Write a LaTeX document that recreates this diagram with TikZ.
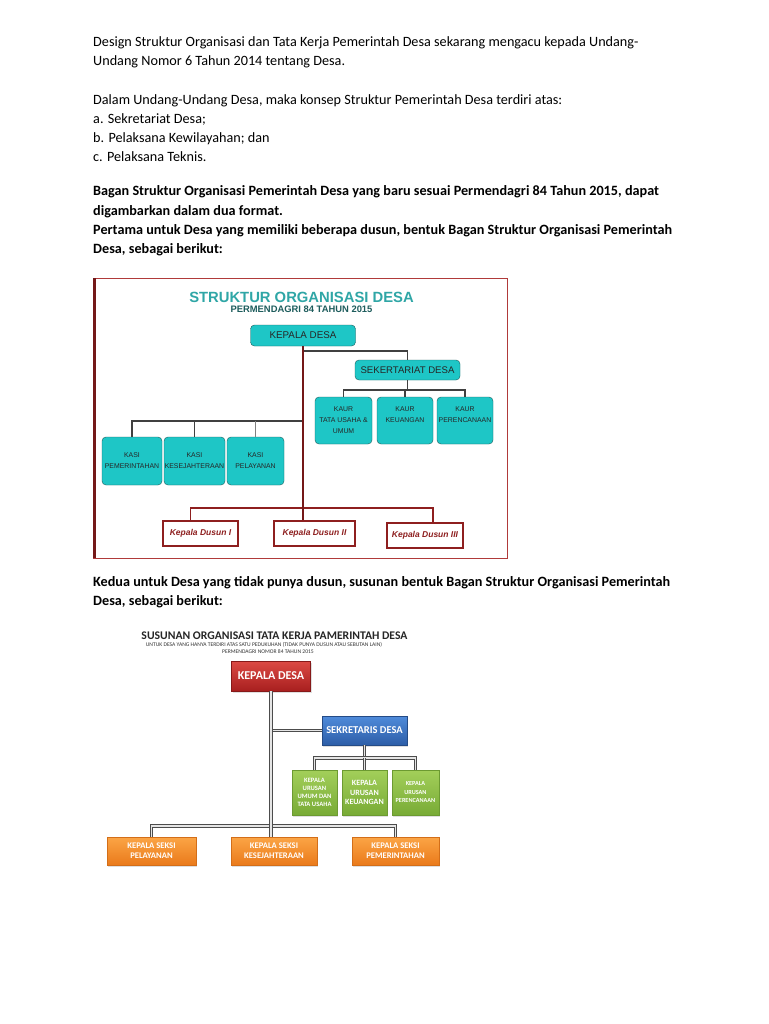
\documentclass[tikz,border=0pt]{standalone}
\usepackage{fontspec}
\setmainfont{Carlito}
\newfontfamily\arialf{Liberation Sans}
\usetikzlibrary{positioning, calc, shadows}

\definecolor{cyanbox}{HTML}{1EC6C6}
\definecolor{tealdark}{HTML}{1D5C5C}
\definecolor{tealtitle}{HTML}{2FA6A6}
\definecolor{trunkred}{HTML}{741818}
\definecolor{framered}{HTML}{B03A3A}
\definecolor{dusunred}{HTML}{8E1F1F}
\definecolor{redtop}{HTML}{DC4A44}
\definecolor{redbot}{HTML}{A81F1F}
\definecolor{bluetop}{HTML}{4F8BDA}
\definecolor{bluebot}{HTML}{2D5EA8}
\definecolor{greentop}{HTML}{A3CF5A}
\definecolor{greenbot}{HTML}{78AB36}
\definecolor{orangetop}{HTML}{FBA545}
\definecolor{orangebot}{HTML}{EA7A1B}

\tikzset{
  txt/.style={anchor=base west, inner sep=0pt, font=\fontsize{14.2}{16}\selectfont},
  txtb/.style={txt, font=\fontsize{14.2}{16}\selectfont\bfseries},
  kotak/.style={draw=tealdark, fill=cyanbox, rounded corners=4pt, inner sep=0pt,
    align=center, text=black!85, font=\arialf\fontsize{6.9}{11}\selectfont},
  dusun/.style={draw=dusunred, line width=1.5pt, fill=white, inner sep=0pt,
    text=dusunred, font=\arialf\bfseries\itshape\fontsize{8.5}{10}\selectfont},
  link/.style={draw=black!75, line width=1.2pt},
  linkd/.style={draw=dusunred, line width=1.2pt},
  trunk/.style={draw=trunkred, line width=2.8pt},
  box2/.style={inner sep=0pt, align=center, text=white,
    drop shadow={opacity=0.25, shadow xshift=1pt, shadow yshift=-1.5pt}},
  merah/.style={box2, top color=redtop, bottom color=redbot, draw=redbot!80!black,
    font=\fontsize{12}{13}\selectfont\bfseries},
  biru/.style={box2, top color=bluetop, bottom color=bluebot, draw=bluebot!80!black,
    font=\fontsize{10.5}{12}\selectfont\bfseries},
  hijau/.style={box2, top color=greentop, bottom color=greenbot, draw=greenbot!90!black,
    font=\fontsize{6.6}{8}\selectfont\bfseries},
  oranye/.style={box2, top color=orangetop, bottom color=orangebot, draw=orangebot!90!black,
    font=\fontsize{8.6}{10}\selectfont\bfseries},
  link2/.style={draw=black!70, double=black!10, double distance=1.1pt, line width=1pt}
}

\begin{document}
\begin{tikzpicture}[x=1pt, y=-1pt]
  \useasboundingbox[fill=white] (0,0) rectangle (768,1024);

  % paragraf pembuka
  \node[txt] (p1) at (93,47) {Design Struktur Organisasi dan Tata Kerja Pemerintah Desa sekarang mengacu kepada Undang-};
  \node[txt] (p2) at (93,66) {Undang Nomor 6 Tahun 2014 tentang Desa.};
  \node[txt] (p3) at (93,105) {Dalam Undang-Undang Desa, maka konsep Struktur Pemerintah Desa terdiri atas:};
  \node[txt] (p4) at (93,124) {a. Sekretariat Desa;};
  \node[txt] (p5) at (93,143) {b. Pelaksana Kewilayahan; dan};
  \node[txt] (p6) at (93,162) {c. Pelaksana Teknis.};
  \node[txtb] (b1) at (93,196) {Bagan Struktur Organisasi Pemerintah Desa yang baru sesuai Permendagri 84 Tahun 2015, dapat};
  \node[txtb] (b2) at (93,215) {digambarkan dalam dua format.};
  \node[txtb] (b3) at (93,234) {Pertama untuk Desa yang memiliki beberapa dusun, bentuk Bagan Struktur Organisasi Pemerintah};
  \node[txtb] (b4) at (93,253) {Desa, sebagai berikut:};

  % bagan pertama
  \draw[framered, line width=0.8pt] (93,278) rectangle (507,558);
  \draw[trunkred, line width=2.5pt] (94.5,278) -- (94.5,558);
  \node[text=tealtitle, font=\arialf\bfseries\fontsize{14.8}{16}\selectfont] (judul1) at (301.5,297) {STRUKTUR ORGANISASI DESA};
  \node[text=tealdark, font=\arialf\bfseries\fontsize{9.4}{10}\selectfont] (sub1) at (301.5,309.5) {PERMENDAGRI 84 TAHUN 2015};

  \node[kotak, minimum width=105, minimum height=21, font=\arialf\fontsize{9.8}{10}\selectfont] (kd1) at (303,335.5) {KEPALA DESA};
  \node[kotak, minimum width=105, minimum height=20, font=\arialf\fontsize{9.6}{10}\selectfont] (sek1) at (407.5,370) {SEKERTARIAT DESA};
  \node[kotak, minimum width=57, minimum height=47] (kaur1) at (343.5,420.5) {KAUR\\TATA USAHA \&\\UMUM};
  \node[kotak, minimum width=56, minimum height=47] (kaur2) at (405,420.5) {KAUR\\KEUANGAN\\~};
  \node[kotak, minimum width=56, minimum height=47] (kaur3) at (465,420.5) {KAUR\\PERENCANAAN\\~};
  \node[kotak, minimum width=60, minimum height=48] (kasi1) at (132,461) {KASI\\PEMERINTAHAN};
  \node[kotak, minimum width=61, minimum height=48] (kasi2) at (194.5,461) {KASI\\KESEJAHTERAAN};
  \node[kotak, minimum width=57, minimum height=48] (kasi3) at (255.5,461) {KASI\\PELAYANAN};
  \node[dusun, minimum width=75, minimum height=25] (dsn1) at (200.5,533.5) {Kepala Dusun I};
  \node[dusun, minimum width=81, minimum height=25] (dsn2) at (314.5,533.5) {Kepala Dusun II};
  \node[dusun, minimum width=76, minimum height=25] (dsn3) at (425,535.5) {Kepala Dusun III};

  \coordinate (barsek) at (0,351);
  \coordinate (barkaur) at (0,390);
  \coordinate (barkasi) at (0,421);
  \coordinate (bardsn) at (0,508);
  \coordinate (d1) at ([xshift=-10pt]dsn1.north);
  \coordinate (d3) at ([xshift=8pt]dsn3.north);

  \draw[link] (kd1.south |- barsek) -| (sek1.north);
  \draw[link] (sek1.south) -- (sek1.south |- barkaur);
  \draw[link] (kaur1.north) |- (barkaur -| kaur3.north) -- (kaur3.north);
  \draw[link] (kaur2.north) -- (kaur2.north |- barkaur);
  \draw[link] (kasi1.north) |- (barkasi -| kd1.south);
  \draw[link] (kasi2.north) -- (kasi2.north |- barkasi);
  \draw[link, black!50] (kasi3.north) -- (kasi3.north |- barkasi);
  \draw[linkd] (d1) |- (bardsn -| d3) -- (d3);
  \draw[trunk] (kd1.south) -- (kd1.south |- dsn2.north);

  % paragraf kedua
  \node[txtb] (k1) at (93,586) {Kedua untuk Desa yang tidak punya dusun, susunan bentuk Bagan Struktur Organisasi Pemerintah};
  \node[txtb] (k2) at (93,605) {Desa, sebagai berikut:};

  % bagan kedua
  \node[font=\fontsize{11.7}{12}\selectfont\bfseries, text=black!85] (judul2) at (274.5,636) {SUSUNAN ORGANISASI TATA KERJA PAMERINTAH DESA};
  \node[font=\fontsize{5.6}{6}\selectfont, text=black!80] (sub2a) at (264,645) {UNTUK DESA YANG HANYA TERDIRI ATAS SATU PEDUKUHAN (TIDAK PUNYA DUSUN ATAU SEBUTAN LAIN)};
  \node[font=\fontsize{5.6}{6}\selectfont, text=black!80] (sub2b) at (268,651.5) {PERMENDAGRI NOMOR 84 TAHUN 2015};

  \node[merah, minimum width=79, minimum height=30] (kd2) at (271,676) {KEPALA DESA};
  \node[biru, minimum width=85, minimum height=29] (sek2) at (364.5,730.5) {SEKRETARIS DESA};
  \node[hijau, minimum width=45, minimum height=45] (kur1) at (314.5,792.5) {KEPALA\\URUSAN\\UMUM DAN\\TATA USAHA};
  \node[hijau, minimum width=45, minimum height=45, font=\fontsize{8}{9.5}\selectfont\bfseries] (kur2) at (364.5,792.5) {KEPALA\\URUSAN\\KEUANGAN};
  \node[hijau, minimum width=47, minimum height=45, font=\fontsize{6.2}{8.5}\selectfont\bfseries] (kur3) at (415.5,792.5) {KEPALA\\URUSAN\\PERENCANAAN};
  \node[oranye, minimum width=89, minimum height=28] (ks1) at (151.5,851) {KEPALA SEKSI\\PELAYANAN};
  \node[oranye, minimum width=86, minimum height=28] (ks2) at (274,851) {KEPALA SEKSI\\KESEJAHTERAAN};
  \node[oranye, minimum width=87, minimum height=28] (ks3) at (395.5,851) {KEPALA SEKSI\\PEMERINTAHAN};

  \coordinate (barkur) at (0,758);
  \coordinate (barks) at (0,826);

  \draw[link2] (kd2.south |- sek2.west) -- (sek2.west);
  \draw[link2] (sek2.south) -- (sek2.south |- barkur);
  \draw[link2] (kur1.north) |- (barkur -| kur3.north) -- (kur3.north);
  \draw[link2] (kur2.north) -- (kur2.north |- barkur);
  \draw[link2] (ks1.north) |- (barks -| ks3.north) -- (ks3.north);
  \draw[link2] (kd2.south) -- (kd2.south |- ks2.north);
\end{tikzpicture}
\end{document}
